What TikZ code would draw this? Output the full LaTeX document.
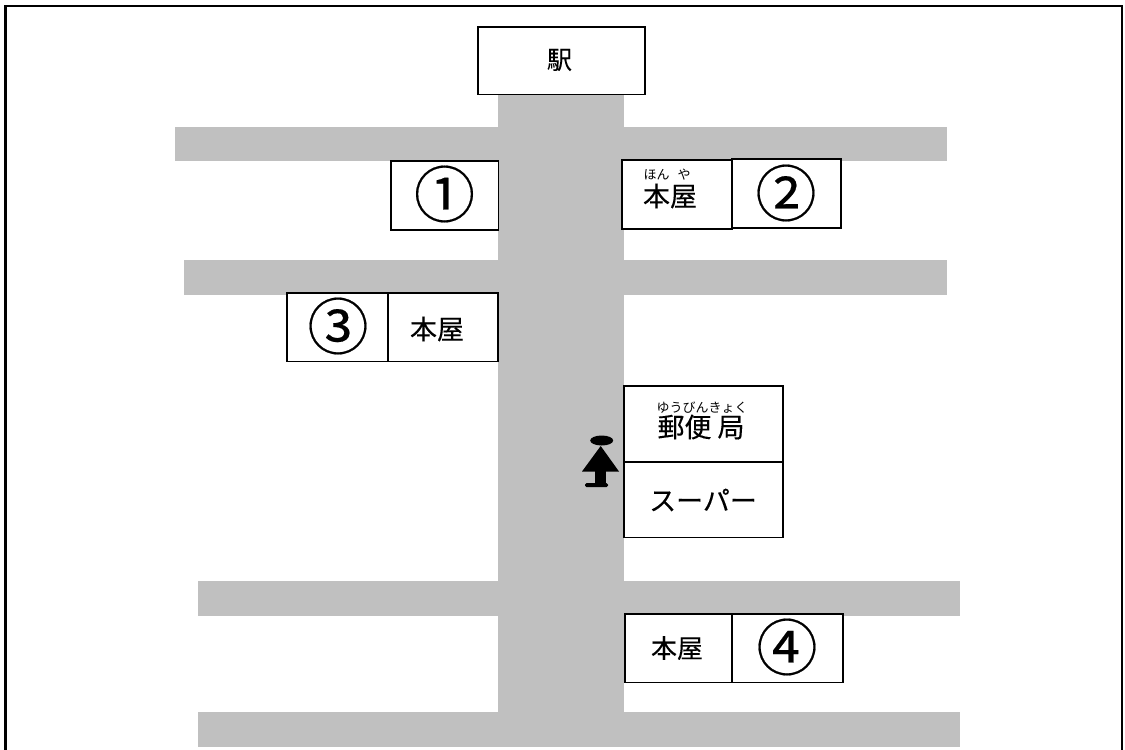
\documentclass[tikz,border=0pt]{standalone}
\usepackage{fontspec}
\setmainfont[AutoFakeBold=0]{Noto Sans CJK JP}
\newfontfamily\boldnum[FakeBold=0.3]{Noto Sans CJK JP}
\newfontfamily\semi[FakeBold=0.15]{Noto Sans CJK JP}
\newcommand{\fs}[1]{\fontsize{#1pt}{#1pt}\selectfont}
\definecolor{roadgray}{HTML}{C0C0C0}
\tikzset{
  road/.style={fill=roadgray,draw=none},
  shop/.style={draw=black,line width=1.9pt,fill=white,inner sep=0pt,outer sep=0pt,anchor=north west},
  lbl/.style={inner sep=0pt,font=\semi\fs{27}},
  ruby/.style={inner sep=0pt,font=\fs{13}},
  num/.style={inner sep=0pt,font=\boldnum\fs{61}},
}
\begin{document}
\begin{tikzpicture}[x=1pt,y=-1pt]
\useasboundingbox (0,0) rectangle (1125,750);
\fill[white] (0,0) rectangle (1125,750);
% frame
\draw[line width=2.6pt] (5.5,752) -- (5.5,6) -- (1122,6) -- (1122,752);
% roads
\fill[road] (498,94) rectangle (624,747);
\fill[road] (175,127) rectangle (947,161);
\fill[road] (184,260) rectangle (947,295);
\fill[road] (198,581) rectangle (960,616);
\fill[road] (198,712) rectangle (960,747);
% shops
\newcommand{\shopbox}[5]{\node[shop,minimum width=#4pt,minimum height=#5pt] (#1) at (#2,#3) {};}
\shopbox{station}{478}{27}{167}{67.5}
\shopbox{s1}{391}{161}{107.5}{69}
\shopbox{book2}{622}{160}{110}{69}
\shopbox{s2}{732}{159}{109}{69}
\shopbox{s3}{287}{293}{101}{68.5}
\shopbox{book3}{388}{293}{110}{68.5}
\shopbox{post}{624}{386}{159}{75.5}
\shopbox{super}{624}{462}{159}{75.5}
\shopbox{book4}{625}{614}{107}{68.5}
\shopbox{s4}{732}{614}{111}{68.5}
% labels
\node[lbl,font=\semi\fs{25}] (tstation) at (559.5,60) {駅};
\node[num] (n1) at (444.5,194) {①};
\node[num] (n2) at (786,193) {②};
\node[num] (n3) at (338,326) {③};
\node[num] (n4) at (787,647) {④};
\node[lbl] (t3) at (437,329) {本屋};
\node[lbl,font=\semi\fs{26}] (t4) at (677,648) {本屋};
\node[lbl] (t2) at (670,196) {本屋};
\node[ruby] (r2a) at (656.5,175) {ほん};
\node[ruby] (r2b) at (684,175) {や};
\node[ruby] (r5) at (702,408) {ゆうびんきょく};
\node[lbl] (t5) at (701,427) {郵便\hspace{6pt}局};
\node[lbl] (t6) at (703,500) {スーパー};
% person
\fill (601.7,440.5) ellipse [x radius=11.5,y radius=5];
\fill (600.7,446) -- (619,471.5) -- (582,471.5) -- cycle;
\fill (595,471) rectangle (606,486.5);
\fill[rounded corners=1.5pt] (585,483) rectangle (608,487);
\end{tikzpicture}
\end{document}
